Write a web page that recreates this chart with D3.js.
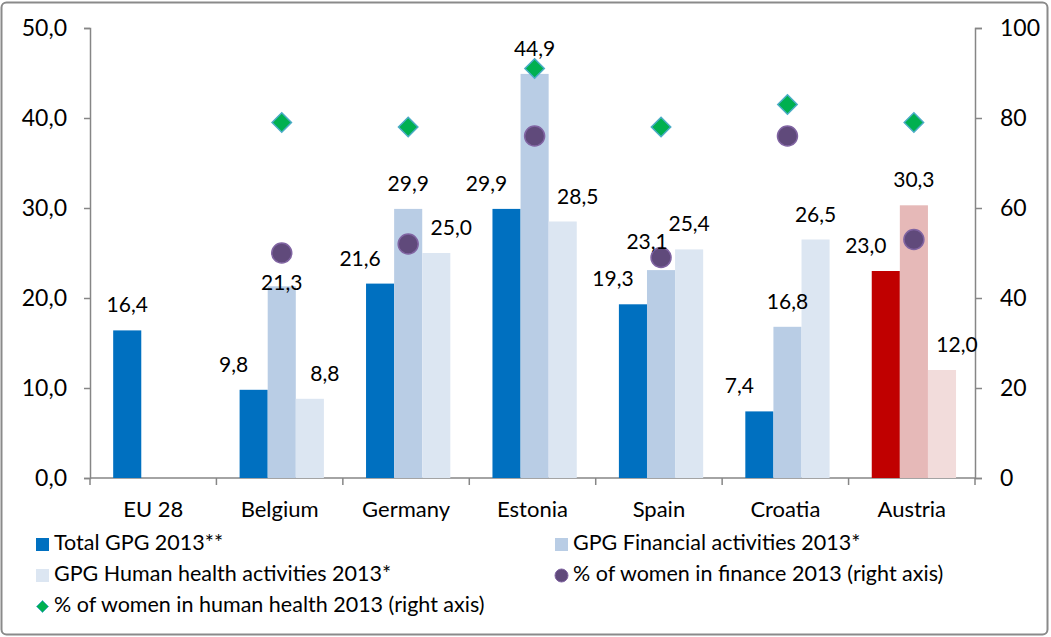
<!DOCTYPE html>
<html>
<head>
<meta charset="utf-8">
<script src="https://cdn.jsdelivr.net/npm/d3@7/dist/d3.min.js"></script>
<style>
html,body{margin:0;padding:0;background:#fff;}
svg{display:block;}
text{font-family:Lato,"Open Sans",sans-serif;fill:#000;}
</style>
</head>
<body>
<svg id="chart" width="1051" height="637"></svg>
<script>
const categories = ["EU 28","Belgium","Germany","Estonia","Spain","Croatia","Austria"];
const totalGPG   = [16.4, 9.8, 21.6, 29.9, 19.3, 7.4, 23.0];
const finGPG     = [null, 21.3, 29.9, 44.9, 23.1, 16.8, 30.3];
const healthGPG  = [null, 8.8, 25.0, 28.5, 25.4, 26.5, 12.0];
const womenFinance = [null, 50, 52, 76, 49, 76, 53];
const womenHealth  = [null, 79, 78, 91, 78, 83, 79];
const leftTicks  = [0, 10, 20, 30, 40, 50];
const rightTicks = [0, 20, 40, 60, 80, 100];
const seriesNames = ["Total GPG 2013**", "GPG Financial activities 2013*", "GPG Human health activities 2013*",
                     "% of women in finance 2013 (right axis)", "% of women in human health 2013 (right axis)"];
const highlightCategory = "Austria";

const barColors = ["#0070C0", "#B9CDE5", "#DCE6F2"];
const highlightColors = ["#C00000", "#E6B9B8", "#F2DCDB"];
const axisColor = "#868686";
const circleFill = "#604A7B", circleStroke = "#8064A2";
const diamondFill = "#00B050", diamondStroke = "#4BACC6";
const FS_TICK = 23, FS_LABEL = 21, FS_CAT = 22, FS_LEG = 21.5;

const svg = d3.select("#chart");
const plot = {left: 90, right: 975, top: 28, bottom: 478};

// border
svg.append("rect").attr("x", 1.5).attr("y", 2.5).attr("width", 1046).attr("height", 632)
  .attr("rx", 5).attr("fill", "#fff").attr("stroke", "#8a8a8a").attr("stroke-width", 2);

const x = d3.scaleBand().domain(categories).range([plot.left, plot.right]).padding(0);
const inner = d3.scaleBand().domain([0,1,2]).range([0, x.bandwidth()]).paddingInner(0).paddingOuter(0.75).align(0.55);
const yL = d3.scaleLinear().domain([0, 50]).range([plot.bottom, plot.top]);
const yR = d3.scaleLinear().domain([0, 100]).range([plot.bottom, plot.top]);

const fmt1 = d => d.toFixed(1).replace(".", ",");

// left axis
const gL = svg.append("g").attr("transform", `translate(${plot.left},0)`)
  .call(d3.axisLeft(yL).tickValues(leftTicks).tickFormat(fmt1).tickSizeOuter(0).tickSize(6).tickPadding(17));
// right axis
const gR = svg.append("g").attr("transform", `translate(${plot.right},0)`)
  .call(d3.axisRight(yR).tickValues(rightTicks).tickFormat(d => d).tickSizeOuter(0).tickSize(7).tickPadding(18));
[gL, gR].forEach(g => {
  g.select(".domain").attr("stroke", axisColor).attr("stroke-width", 1.5);
  g.selectAll(".tick line").attr("stroke", axisColor).attr("stroke-width", 1.5);
  g.selectAll(".tick text").style("font-family", "Lato").style("font-size", FS_TICK + "px").attr("fill", "#000");
});

// bottom axis (ticks at band boundaries)
const gB = svg.append("g");
gB.append("line").attr("x1", plot.left).attr("x2", plot.right).attr("y1", plot.bottom).attr("y2", plot.bottom)
  .attr("stroke", axisColor).attr("stroke-width", 1.5);
const boundaries = categories.map(c => x(c)).concat([x.range()[1]]);
gB.selectAll("line.tk").data(boundaries).join("line").attr("class", "tk")
  .attr("x1", d => d).attr("x2", d => d).attr("y1", plot.bottom).attr("y2", plot.bottom + 7)
  .attr("stroke", axisColor).attr("stroke-width", 1.5);
gB.selectAll("text").data(categories).join("text")
  .attr("x", d => x(d) + x.bandwidth() / 2).attr("y", plot.bottom + 39)
  .attr("text-anchor", "middle").style("font-size", FS_CAT + "px").text(d => d);

// bars
const series = [totalGPG, finGPG, healthGPG];
const barData = [];
categories.forEach((c, i) => {
  series.forEach((s, k) => {
    if (s[i] != null) barData.push({c, i, k, v: s[i]});
  });
});
svg.append("g").selectAll("rect").data(barData).join("rect")
  .attr("x", d => x(d.c) + inner(d.k))
  .attr("width", inner.bandwidth())
  .attr("y", d => yL(d.v))
  .attr("height", d => yL(0) - yL(d.v))
  .attr("fill", d => (d.c === highlightCategory ? highlightColors : barColors)[d.k]);

// markers
const mx = c => x(c) + inner(1) + inner.bandwidth() / 2;
const circR = 10;
const circData = categories.map((c, i) => ({c, v: womenFinance[i]})).filter(d => d.v != null);
const diaData = categories.map((c, i) => ({c, v: womenHealth[i]})).filter(d => d.v != null);

// data labels (nudged away from neighbouring bars / markers)
const labelData = barData.map(d => {
  const fin = finGPG[d.i];
  let dx = 0;
  if (d.k === 0 && fin != null && d.v < fin) dx = -20;
  if (d.k === 2 && fin != null && d.v < fin) dx = 15;
  let yb = yL(d.v) - 18;
  if (d.k === 1 && womenFinance[d.i] != null) {
    const cy = yR(womenFinance[d.i]);
    if (cy >= yb - 20 && cy <= yb + 5) yb = cy + 37;
    else if (cy > yb + 5 && cy < yb + 20) { yb = cy - 9; dx = -14; }
  }
  return {...d, dx, yb};
});
svg.append("g").selectAll("circle").data(circData).join("circle")
  .attr("cx", d => mx(d.c)).attr("cy", d => yR(d.v)).attr("r", circR)
  .attr("fill", circleFill).attr("stroke", circleStroke).attr("stroke-width", 1.5);
const diamond = d3.symbol().type(d3.symbolDiamond2).size(240);
svg.append("g").selectAll("path").data(diaData).join("path")
  .attr("transform", d => `translate(${mx(d.c)},${yR(d.v)})`)
  .attr("d", diamond).attr("fill", diamondFill).attr("stroke", diamondStroke).attr("stroke-width", 1.5);

svg.append("g").selectAll("text").data(labelData).join("text")
  .attr("x", d => x(d.c) + inner(d.k) + inner.bandwidth() / 2 + d.dx)
  .attr("y", d => d.yb)
  .attr("text-anchor", "middle").style("font-size", FS_LABEL + "px")
  .text(d => fmt1(d.v));

// legend
const legendItems = [
  {name: seriesNames[0], type: "rect", color: barColors[0], x: 36, y: 550},
  {name: seriesNames[1], type: "rect", color: barColors[1], x: 555, y: 550},
  {name: seriesNames[2], type: "rect", color: barColors[2], x: 36, y: 581},
  {name: seriesNames[3], type: "circle", x: 555, y: 581},
  {name: seriesNames[4], type: "diamond", x: 36, y: 612}
];
const lg = svg.append("g");
legendItems.forEach(it => {
  const g = lg.append("g");
  if (it.type === "rect") {
    g.append("rect").attr("x", it.x).attr("y", it.y - 12).attr("width", 13).attr("height", 13).attr("fill", it.color);
  } else if (it.type === "circle") {
    g.append("circle").attr("cx", it.x + 6.5).attr("cy", it.y - 5.5).attr("r", 6.5)
      .attr("fill", circleFill).attr("stroke", circleStroke).attr("stroke-width", 1);
  } else {
    g.append("path").attr("transform", `translate(${it.x + 6.5},${it.y - 5.5})`)
      .attr("d", d3.symbol().type(d3.symbolDiamond2).size(90))
      .attr("fill", diamondFill).attr("stroke", diamondStroke).attr("stroke-width", 1);
  }
  g.append("text").attr("x", it.x + 18).attr("y", it.y).style("font-size", FS_LEG + "px").text(it.name);
});
</script>
</body>
</html>
